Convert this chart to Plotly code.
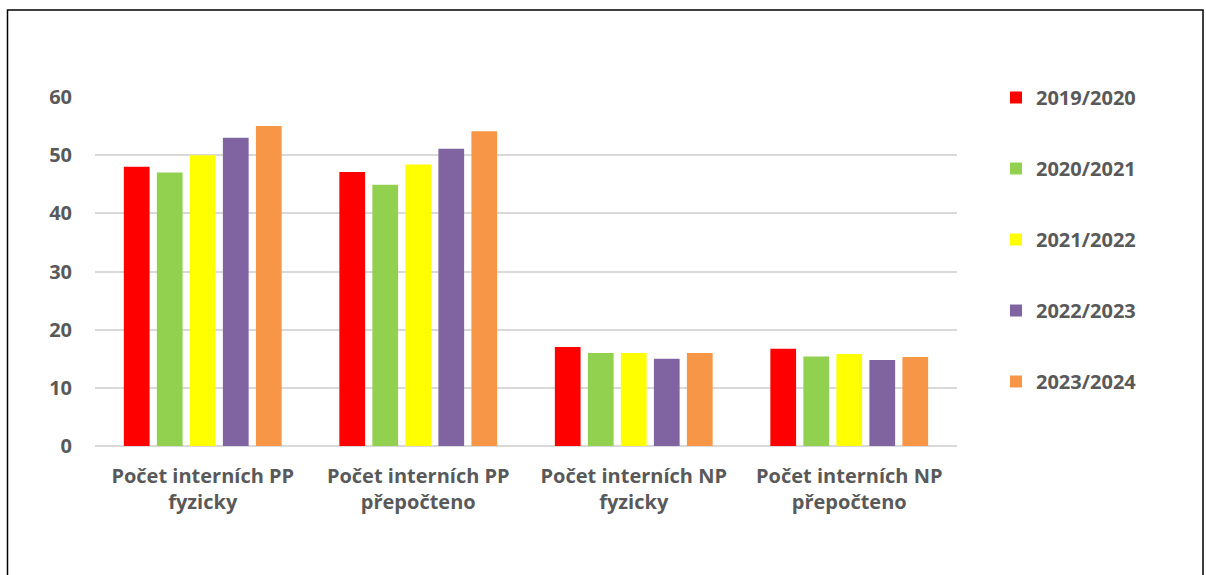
import plotly.graph_objects as go

categories = ["Počet interních PP<br>fyzicky", "Počet interních PP<br>přepočteno",
              "Počet interních NP<br>fyzicky", "Počet interních NP<br>přepočteno"]
series_names = ["2019/2020", "2020/2021", "2021/2022", "2022/2023", "2023/2024"]
v2019 = [48, 47.1, 17, 16.7]
v2020 = [47, 44.9, 16, 15.4]
v2021 = [50, 48.4, 16, 15.8]
v2022 = [53, 51.1, 15, 14.8]
v2023 = [55, 54.1, 16, 15.3]
colors = ["#FF0000", "#92D050", "#FFFF00", "#8064A2", "#F79646"]
values = [v2019, v2020, v2021, v2022, v2023]

fig = go.Figure()
for name, vals, col in zip(series_names, values, colors):
    fig.add_trace(go.Bar(x=categories, y=vals, name=name, marker_color=col,
                         marker_line_width=0, legendgroup=name))

W, H = 1206, 575
l, r, t = 95, W - 957, 97
b = H - 446
pw, ph = W - l - r, H - t - b
FAM = "'Open Sans', sans-serif"
tf = dict(family=FAM, size=20, color="#595959", weight="bold")


def px_x(x):
    return (x - l) / pw


def px_y(y):
    return (H - b - y) / ph


fig.update_layout(
    width=W, height=H,
    margin=dict(l=l, r=r, t=t, b=b, autoexpand=False),
    plot_bgcolor="white", paper_bgcolor="white",
    barmode="group", bargap=0.234, bargroupgap=0.22,
    font=dict(family=FAM, size=20, color="#595959"),
    legend=dict(x=px_x(996), y=px_y(78), xanchor="left", yanchor="top",
                tracegroupgap=42, font=tf, itemwidth=30, maxheight=450,
                bgcolor="rgba(0,0,0,0)"),
    yaxis=dict(range=[0, 60], dtick=10, showgrid=True, gridcolor="#D9D9D9", gridwidth=1.5,
               zeroline=True, zerolinecolor="#D9D9D9", zerolinewidth=1.5,
               tickfont=tf, ticklabelstandoff=22),
    xaxis=dict(tickfont=tf, showline=False, ticks="", ticklabelstandoff=16),
    showlegend=True,
)
fig.add_shape(type="rect", xref="paper", yref="paper",
              x0=px_x(7.5), x1=px_x(1203),
              y0=px_y(600), y1=px_y(10),
              line=dict(color="black", width=1.5), fillcolor="rgba(0,0,0,0)", layer="below")

fig.write_html("out.html", config={"displayModeBar": False},
               post_script="document.body.style.margin='0';document.body.style.overflow='hidden';")
